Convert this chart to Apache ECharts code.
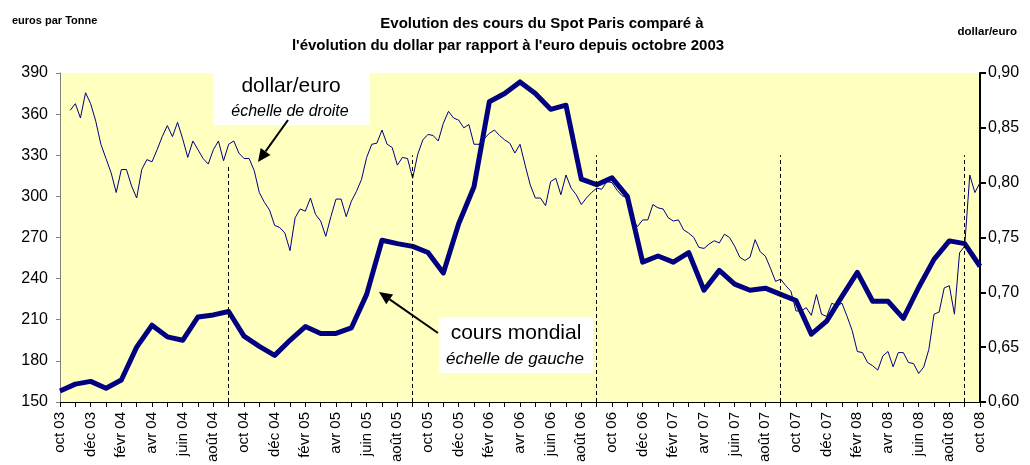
<!DOCTYPE html>
<html>
<head>
<meta charset="utf-8">
<script src="https://cdn.jsdelivr.net/npm/echarts@6/dist/echarts.min.js"></script>
<style>
  html, body { margin: 0; padding: 0; background: #fff; }
  #chart { width: 1030px; height: 465px; }
</style>
</head>
<body>
<div id="chart"></div>
<script>
// mois (oct 03 -> oct 08)
var monthNames = ["janv", "févr", "mars", "avr", "mai", "juin", "juil", "août", "sept", "oct", "nov", "déc"];
var months = [];
for (var m = 9; m <= 9 + 60; m++) {
  var yr = 3 + Math.floor(m / 12);
  months.push(monthNames[m % 12] + " " + ("0" + yr).slice(-2));
}

// cours mondial, euros par tonne (mensuel)
var coursMondial = [
  158, 163, 165, 160, 166, 190, 206, 197.5, 195, 212, 213.5, 216,
  198, 190.5, 184, 195, 205, 200, 200, 204, 228.5, 268, 265.5, 263.5,
  259, 244, 280, 307, 369, 375, 383.5, 375, 363.5, 366.5, 312.5, 308.5,
  313.5, 300, 252, 256.5, 252, 259, 231.5, 246, 236, 231.5, 233, 228.5,
  224, 199.5, 209, 227, 244.5, 223.5, 223.5, 211, 233.5, 254, 267.5, 265.5,
  249
];

// dollar/euro (3 relevés par mois)
var dollarEuro = [
  null, null, 0.866, 0.872, 0.859, 0.882, 0.872, 0.856, 0.835, 0.822, 0.809, 0.791,
  0.812, 0.812, 0.797, 0.786, 0.812, 0.821, 0.819, 0.830, 0.842, 0.852, 0.842, 0.855,
  0.840, 0.823, 0.838, 0.830, 0.822, 0.817, 0.830, 0.838, 0.820, 0.835, 0.838, 0.827,
  0.822, 0.822, 0.811, 0.791, 0.782, 0.775, 0.761, 0.759, 0.754, 0.738, 0.768, 0.776,
  0.774, 0.786, 0.771, 0.765, 0.751, 0.769, 0.785, 0.785, 0.769, 0.783, 0.792, 0.803,
  0.823, 0.835, 0.836, 0.848, 0.835, 0.832, 0.816, 0.823, 0.822, 0.804, 0.826, 0.839,
  0.844, 0.843, 0.838, 0.854, 0.865, 0.859, 0.857, 0.850, 0.853, 0.835, 0.835, 0.840,
  0.845, 0.848, 0.843, 0.839, 0.836, 0.827, 0.835, 0.816, 0.798, 0.786, 0.786, 0.779,
  0.801, 0.804, 0.789, 0.807, 0.795, 0.789, 0.780, 0.786, 0.791, 0.795, 0.794, 0.801,
  0.800, 0.793, 0.788, 0.786, 0.766, 0.760, 0.766, 0.766, 0.780, 0.777, 0.776, 0.768,
  0.765, 0.766, 0.757, 0.754, 0.750, 0.741, 0.740, 0.744, 0.747, 0.745, 0.753, 0.750,
  0.742, 0.732, 0.729, 0.732, 0.748, 0.737, 0.733, 0.722, 0.710, 0.712, 0.706, 0.701,
  0.683, 0.683, 0.686, 0.679, 0.698, 0.680, 0.678, 0.690, 0.688, 0.690, 0.678, 0.665,
  0.646, 0.645, 0.636, 0.633, 0.629, 0.642, 0.646, 0.632, 0.645, 0.645, 0.636, 0.635,
  0.626, 0.632, 0.648, 0.680, 0.682, 0.704, 0.706, 0.680, 0.736, 0.742, 0.807, 0.791,
  0.800
];
var dollarIdx = dollarEuro.map(function (v, i) { return i; });

// traits verticaux en pointillés : [mois, haut]
var dashMarks = [["sept 04", 322], ["sept 05", 330], ["sept 06", 330], ["sept 07", 330], ["sept 08", 330]];

var leftTicks = { min: 150, max: 390, step: 30 };
var rightTicks = { min: 0.6, max: 0.9, step: 0.05 };

var navy = "#000080";
var font = "Arial, 'Liberation Sans', sans-serif";

function arrow(x1, y1, x2, y2) {
  var ang = Math.atan2(y2 - y1, x2 - x1);
  var len = 13, w = 6;
  var bx = x2 - len * Math.cos(ang), by = y2 - len * Math.sin(ang);
  var px = -Math.sin(ang) * w, py = Math.cos(ang) * w;
  return [
    { type: "line", shape: { x1: x1, y1: y1, x2: bx, y2: by }, style: { stroke: "#000", lineWidth: 2 }, z: 100 },
    { type: "polygon", shape: { points: [[x2, y2], [bx + px, by + py], [bx - px, by - py]] }, style: { fill: "#000" }, z: 100 }
  ];
}

var chart = echarts.init(document.getElementById("chart"));

var graphics = [
  { type: "text", x: 12, y: 21, style: { text: "euros par Tonne", font: "bold 11px " + font, fill: "#000", textVerticalAlign: "middle" } },
  { type: "text", x: 1017, y: 32, style: { text: "dollar/euro", font: "bold 11.5px " + font, fill: "#000", textAlign: "right", textVerticalAlign: "middle" } },
  { type: "text", x: 542, y: 24, style: { text: "Evolution des cours du Spot Paris comparé à", font: "bold 15px " + font, fill: "#000", textAlign: "center", textVerticalAlign: "middle" } },
  { type: "text", x: 508, y: 46, style: { text: "l'évolution du dollar par rapport à l'euro depuis octobre 2003", font: "bold 15px " + font, fill: "#000", textAlign: "center", textVerticalAlign: "middle" } },
  { type: "rect", shape: { x: 213, y: 70, width: 157, height: 55 }, style: { fill: "#fff" }, z: 90 },
  { type: "text", x: 291, y: 86, style: { text: "dollar/euro", font: "21px " + font, fill: "#000", textAlign: "center", textVerticalAlign: "middle" }, z: 100 },
  { type: "text", x: 290, y: 112, style: { text: "échelle de droite", font: "italic 16px " + font, fill: "#000", textAlign: "center", textVerticalAlign: "middle" }, z: 100 },
  { type: "rect", shape: { x: 439, y: 317, width: 154, height: 56 }, style: { fill: "#fff" }, z: 90 },
  { type: "text", x: 516, y: 333, style: { text: "cours mondial", font: "21px " + font, fill: "#000", textAlign: "center", textVerticalAlign: "middle" }, z: 100 },
  { type: "text", x: 515, y: 359, style: { text: "échelle de gauche", font: "italic 17px " + font, fill: "#000", textAlign: "center", textVerticalAlign: "middle" }, z: 100 }
].concat(arrow(288, 120, 258, 162)).concat(arrow(438, 333, 379, 292));

var option = {
  animation: false,
  backgroundColor: "#fff",
  textStyle: { fontFamily: font },
  grid: {
    left: 60, right: 50, top: 73, bottom: 62,
    show: true, backgroundColor: "#FFFFC0", borderWidth: 0
  },
  xAxis: [
    {
      type: "category",
      data: months,
      boundaryGap: false,
      axisLine: { lineStyle: { color: "#000", width: 1 } },
      axisTick: { show: true, interval: 0, length: 5, lineStyle: { color: "#000" } },
      axisLabel: { interval: 1, rotate: 90, margin: 10, color: "#000", fontSize: 15, fontFamily: font },
      splitLine: { show: false }
    },
    {
      type: "category",
      data: dollarIdx,
      boundaryGap: false,
      show: false
    }
  ],
  yAxis: [
    {
      type: "value",
      min: leftTicks.min, max: leftTicks.max, interval: leftTicks.step,
      axisLine: { show: true, lineStyle: { color: "#808080" } },
      axisTick: { show: true, length: 4, lineStyle: { color: "#808080" } },
      axisLabel: { color: "#000", fontSize: 16, margin: 12, fontFamily: font },
      splitLine: { show: false }
    },
    {
      type: "value",
      position: "right",
      min: rightTicks.min, max: rightTicks.max, interval: rightTicks.step,
      axisLine: { show: true, lineStyle: { color: "#000", width: 2 } },
      axisTick: { show: true, length: 6, lineStyle: { color: "#000", width: 2 } },
      axisLabel: {
        color: "#000", fontSize: 16, margin: 8, fontFamily: font,
        formatter: function (v) { return v.toFixed(2).replace(".", ","); }
      },
      splitLine: { show: false }
    }
  ],
  series: [
    {
      name: "dollar/euro",
      type: "line",
      xAxisIndex: 1,
      yAxisIndex: 1,
      data: dollarEuro,
      symbol: "none",
      connectNulls: false,
      lineStyle: { color: navy, width: 1 },
      z: 3
    },
    {
      name: "cours mondial",
      type: "line",
      xAxisIndex: 0,
      yAxisIndex: 0,
      data: coursMondial,
      symbol: "none",
      lineStyle: { color: navy, width: 5, join: "round" },
      z: 4,
      markLine: {
        silent: true,
        symbol: ["none", "none"],
        label: { show: false },
        lineStyle: { color: "#000", width: 1, type: [4, 3] },
        data: dashMarks.map(function (d) {
          return [{ coord: [d[0], leftTicks.min] }, { coord: [d[0], d[1]] }];
        })
      }
    }
  ],
  graphic: graphics
};

chart.setOption(option);
</script>
</body>
</html>
